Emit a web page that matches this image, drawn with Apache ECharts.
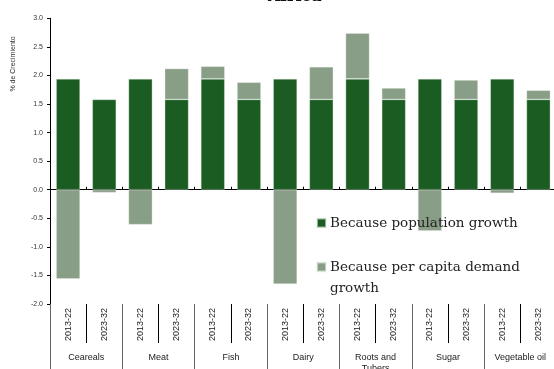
<!DOCTYPE html>
<html>
<head>
<meta charset="utf-8">
<script src="https://cdn.jsdelivr.net/npm/echarts@6/dist/echarts.min.js"></script>
<style>
  html, body { margin: 0; padding: 0; background: #fff; }
  #chart { width: 554px; height: 369px; }
</style>
</head>
<body>
<div id="chart"></div>
<script>
// Product groups and the two projection periods shown for each
const groups = ['Ceareals', 'Meat', 'Fish', 'Dairy', 'Roots and\nTubers', 'Sugar', 'Vegetable oil'];
const periods = ['2013-22', '2023-32'];
const periodLabels = groups.flatMap(() => periods);

// Growth contributions (% per year)
const populationGrowth = [1.94, 1.58, 1.94, 1.58, 1.94, 1.58, 1.94, 1.58, 1.94, 1.58, 1.94, 1.58, 1.94, 1.58];
const perCapitaGrowth = [-1.56, -0.05, -0.61, 0.54, 0.22, 0.30, -1.65, 0.57, 0.80, 0.20, -0.72, 0.34, -0.06, 0.16];

const yTicks = { min: -2, max: 3, step: 0.5 };

const seriesNames = ['Because population growth', 'Because per capita demand growth'];
const colors = ['#1a5c22', '#889e86'];

const chart = echarts.init(document.getElementById('chart'), null, { renderer: 'canvas' });

const labelFont = 'Liberation Sans, Arial, sans-serif';
const serifFont = 'DejaVu Serif, serif';

chart.setOption({
  animation: false,
  backgroundColor: '#ffffff',
  title: {
    text: 'Africa',
    left: 268,
    top: -11,
    padding: 0,
    textStyle: { fontFamily: serifFont, fontWeight: 'bold', fontSize: 16, color: '#111' }
  },
  grid: {
    left: 50, top: 18.3, width: 506.5, height: 285.7,
    containLabel: false, outerBoundsMode: 'none'
  },
  legend: [
    {
      data: [seriesNames[0]],
      left: 316, top: 216,
      icon: 'rect', itemWidth: 9, itemHeight: 9, itemGap: 4,
      padding: 0,
      textStyle: { fontFamily: serifFont, fontSize: 13.5, color: '#222', padding: [0, 0, 0, -1] }
    },
    {
      data: [seriesNames[1]],
      left: 316, top: 260,
      icon: 'rect', itemWidth: 9, itemHeight: 9,
      padding: 0,
      formatter: () => 'Because per capita demand',
      textStyle: { fontFamily: serifFont, fontSize: 13.5, color: '#222', padding: [0, 0, 0, -1] }
    }
  ],
  graphic: [
    {
      type: 'text',
      x: 330, y: 281,
      style: { text: 'growth', font: '13.5px ' + serifFont, fill: '#222' }
    },
    {
      type: 'text',
      x: 13, y: 64,
      rotation: Math.PI / 2,
      style: {
        text: '% de Crecimiento', font: '7px ' + labelFont, fill: '#333',
        textAlign: 'center', textVerticalAlign: 'middle'
      }
    }
  ],
  xAxis: [
    {
      // zero line with small boundary ticks
      type: 'category',
      data: periodLabels,
      position: 'bottom',
      axisLine: { show: true, onZero: true, lineStyle: { color: '#000', width: 1 } },
      axisTick: { show: true, inside: true, length: 3, interval: 0, lineStyle: { color: '#000' } },
      axisLabel: { show: false },
      splitLine: { show: false }
    },
    {
      // period labels under the plot
      type: 'category',
      data: periodLabels,
      position: 'bottom',
      axisLine: { show: false, onZero: false },
      axisTick: { show: true, length: 39, interval: 0, lineStyle: { color: '#000' } },
      axisLabel: {
        interval: 0, rotate: 90, margin: 4,
        fontFamily: labelFont, fontSize: 9, color: '#222'
      },
      splitLine: { show: false }
    },
    {
      // product group labels
      type: 'category',
      data: groups,
      position: 'bottom',
      axisLine: { show: false, onZero: false },
      axisTick: { show: true, length: 80, interval: 0, lineStyle: { color: '#666' } },
      axisLabel: {
        interval: 0, margin: 48,
        fontFamily: labelFont, fontSize: 9, lineHeight: 11, color: '#222'
      },
      splitLine: { show: false }
    }
  ],
  yAxis: {
    type: 'value',
    min: yTicks.min, max: yTicks.max, interval: yTicks.step,
    axisLine: { show: true, lineStyle: { color: '#000', width: 1 } },
    axisTick: { show: true, length: 3, lineStyle: { color: '#000' } },
    axisLabel: {
      margin: 7, fontFamily: labelFont, fontSize: 7, color: '#333',
      formatter: v => v.toFixed(1)
    },
    splitLine: { show: false }
  },
  series: [
    {
      name: seriesNames[0],
      type: 'bar',
      stack: 'growth',
      xAxisIndex: 0, yAxisIndex: 0,
      barWidth: '66%',
      data: populationGrowth,
      itemStyle: { color: colors[0], borderColor: 'rgba(230,240,228,0.6)', borderWidth: 0.6 }
    },
    {
      name: seriesNames[1],
      type: 'bar',
      stack: 'growth',
      xAxisIndex: 0, yAxisIndex: 0,
      barWidth: '66%',
      data: perCapitaGrowth,
      itemStyle: { color: colors[1], borderColor: 'rgba(235,242,233,0.6)', borderWidth: 0.6 }
    }
  ]
});
</script>
</body>
</html>
